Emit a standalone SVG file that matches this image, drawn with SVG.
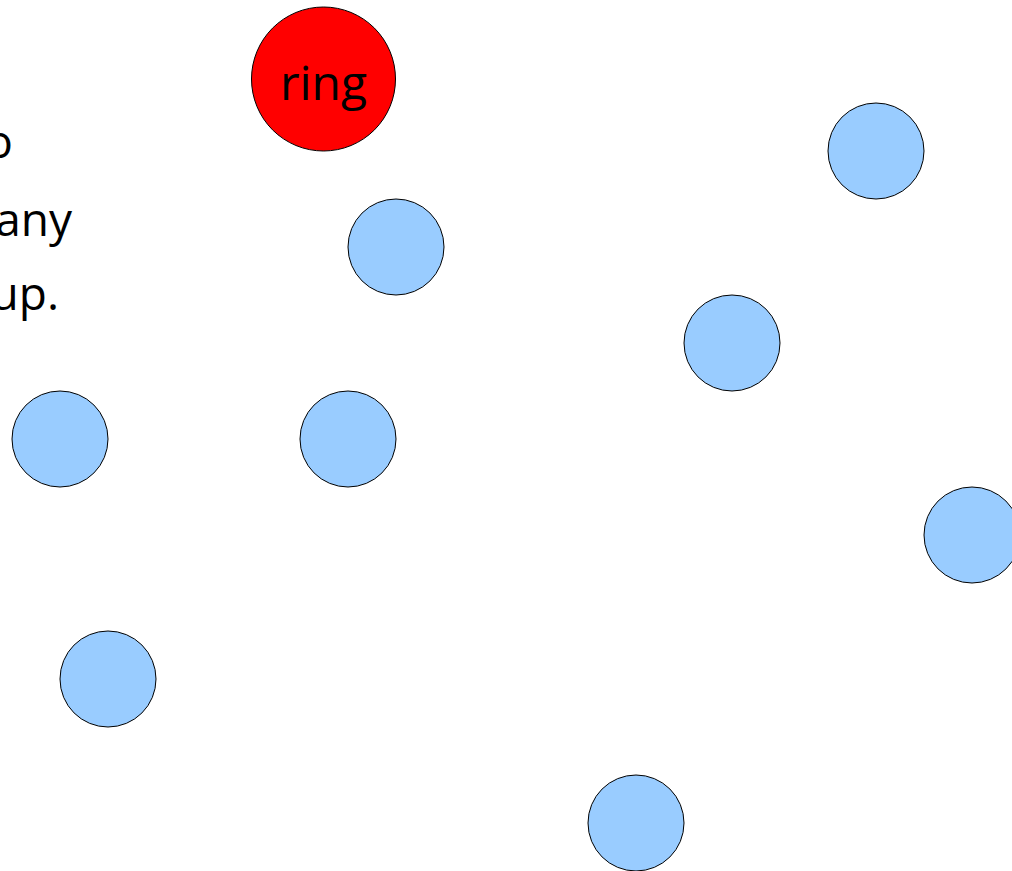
<svg xmlns="http://www.w3.org/2000/svg" width="1012" height="871" viewBox="0 0 1012 871">
<style>
.n{fill:#99ccff;stroke:#000;stroke-width:1}
.r{fill:#ff0000;stroke:#000;stroke-width:1}
.t{font-family:"Open Sans","DejaVu Sans",sans-serif;font-size:46px;fill:#000}
</style>
<rect width="1012" height="871" fill="#fff"/>
<g id="caption">
<text class="t" x="13" y="158" text-anchor="end">o</text>
<text class="t" x="72" y="236" text-anchor="end">any</text>
<text class="t" x="59" y="310" text-anchor="end">up.</text>
</g>
<g id="connectors"></g>
<g id="ring"><circle class="r" cx="323.5" cy="79" r="72"/><text class="t" x="323.5" y="100" text-anchor="middle" style="font-size:48px">ring</text></g>
<g id="n1"><circle class="n" cx="396" cy="247" r="48"/></g>
<g id="n2"><circle class="n" cx="876" cy="151" r="48"/></g>
<g id="n3"><circle class="n" cx="732" cy="343" r="48"/></g>
<g id="n4"><circle class="n" cx="60" cy="439" r="48"/></g>
<g id="n5"><circle class="n" cx="348" cy="439" r="48"/></g>
<g id="n6"><circle class="n" cx="972" cy="535" r="48"/></g>
<g id="n7"><circle class="n" cx="108" cy="679" r="48"/></g>
<g id="n8"><circle class="n" cx="636" cy="823" r="48"/></g>
</svg>
